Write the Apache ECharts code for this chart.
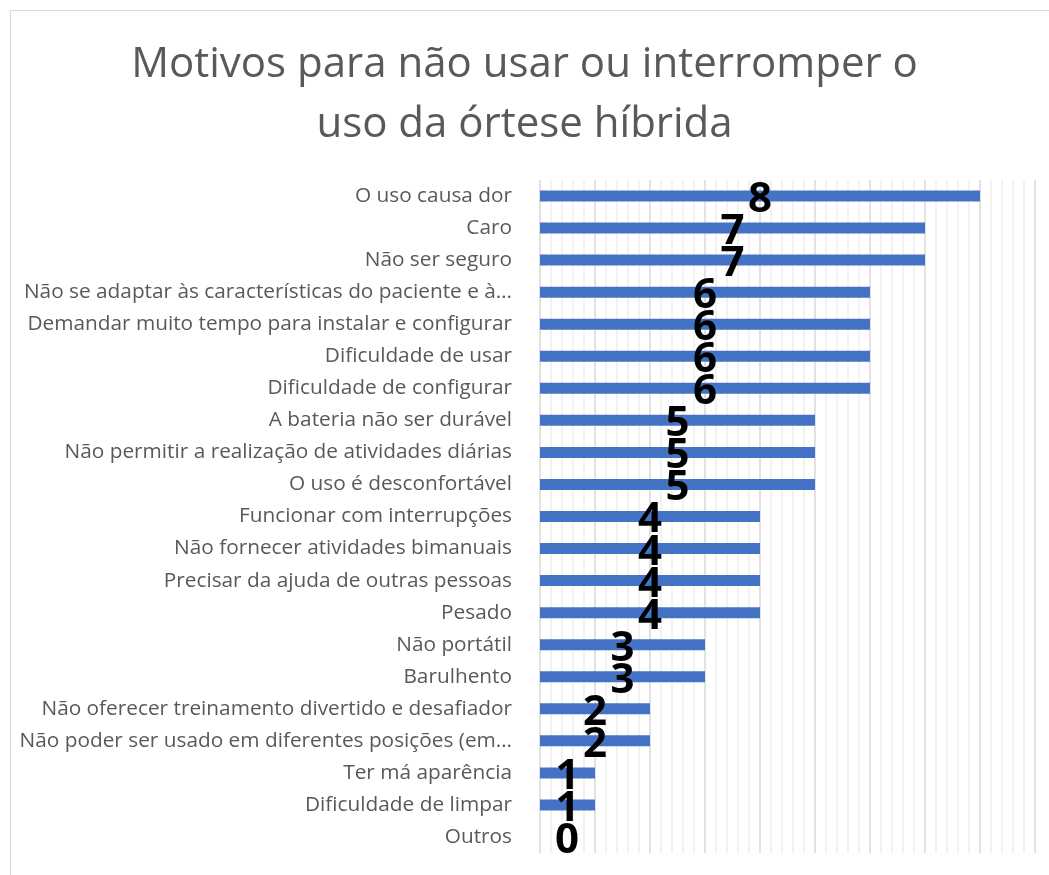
<!DOCTYPE html>
<html>
<head>
<meta charset="utf-8">
<script src="https://cdn.jsdelivr.net/npm/echarts@6/dist/echarts.min.js"></script>
<style>
  html, body { margin: 0; padding: 0; background: #fff; }
  #chart { width: 1049px; height: 875px; }
</style>
</head>
<body>
<div id="chart"></div>
<script>
// Reasons for not using / abandoning the hybrid orthosis (number of answers)
const categories = [
  'O uso causa dor',
  'Caro',
  'Não ser seguro',
  'Não se adaptar às características do paciente e à…',
  'Demandar muito tempo para instalar e configurar',
  'Dificuldade de usar',
  'Dificuldade de configurar',
  'A bateria não ser durável',
  'Não permitir a realização de atividades diárias',
  'O uso é desconfortável',
  'Funcionar com interrupções',
  'Não fornecer atividades bimanuais',
  'Precisar da ajuda de outras pessoas',
  'Pesado',
  'Não portátil',
  'Barulhento',
  'Não oferecer treinamento divertido e desafiador',
  'Não poder ser usado em diferentes posições (em…',
  'Ter má aparência',
  'Dificuldade de limpar',
  'Outros'
];
const counts = [8, 7, 7, 6, 6, 6, 6, 5, 5, 5, 4, 4, 4, 4, 3, 3, 2, 2, 1, 1, 0];
const xMax = 9;

const chart = echarts.init(document.getElementById('chart'));

// a zero-length bar has no centre to sit on, so nudge its label right
const barData = counts.map(v => v === 0 ? { value: v, label: { offset: [27, 4] } } : v);

chart.setOption({
  backgroundColor: '#ffffff',
  animation: false,
  title: {
    text: 'Motivos para não usar ou interromper o\nuso da órtese híbrida',
    left: 'center',
    top: 30,
    textStyle: {
      fontFamily: 'Open Sans',
      fontWeight: 'normal',
      fontSize: 42,
      lineHeight: 60,
      color: '#595959'
    }
  },
  graphic: [{
    type: 'rect',
    shape: { x: 10.5, y: 10.5, width: 1100, height: 900 },
    style: { fill: 'none', stroke: '#d9d9d9', lineWidth: 1 },
    silent: true
  }],
  grid: { left: 540, right: 14, top: 180, bottom: 22 },
  xAxis: {
    type: 'value',
    min: 0,
    max: xMax,
    interval: 1,
    axisLabel: { show: false },
    axisLine: { show: false },
    axisTick: { show: false },
    splitLine: { show: true, lineStyle: { color: '#d9d9d9', width: 1.5 } },
    minorTick: { show: false, splitNumber: 5 },
    minorSplitLine: { show: true, lineStyle: { color: '#eeeeee', width: 1.5 } }
  },
  yAxis: {
    type: 'category',
    data: categories,
    inverse: true,
    axisLine: { show: false },
    axisTick: { show: false },
    axisLabel: {
      margin: 28,
      fontFamily: 'Open Sans',
      fontSize: 20.8,
      color: '#595959'
    }
  },
  series: [{
    type: 'bar',
    data: barData,
    barWidth: 11,
    itemStyle: { color: '#4472c4' },
    label: {
      show: true,
      position: 'inside',
      offset: [0, 4],
      fontFamily: 'Open Sans',
      fontWeight: 'bold',
      fontSize: 42,
      color: '#000000'
    }
  }]
});
</script>
</body>
</html>
